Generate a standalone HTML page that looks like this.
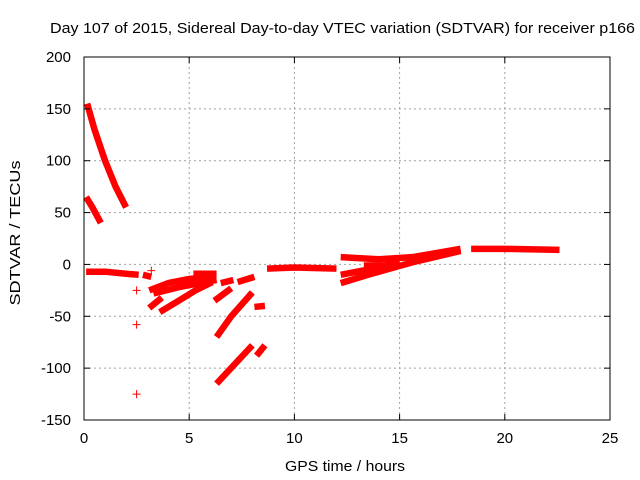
<!DOCTYPE html>
<html><head><meta charset="utf-8"><style>
body{margin:0;background:#fff;}
svg{display:block;font-family:"Liberation Sans",sans-serif;}
</style></head><body>
<svg id="chart" width="640" height="480">
<text x="50" y="33" font-size="15" textLength="585" lengthAdjust="spacingAndGlyphs">Day 107 of 2015, Sidereal Day-to-day VTEC variation (SDTVAR) for receiver p166</text>
<text x="0" y="0" text-anchor="middle" font-size="15" textLength="145" lengthAdjust="spacingAndGlyphs" transform="translate(20,233) rotate(-90)">SDTVAR / TECUs</text>
<text x="345" y="471" text-anchor="middle" font-size="15" textLength="120" lengthAdjust="spacingAndGlyphs">GPS time / hours</text>
<g id="grid"></g><g id="data"></g><g id="axes"></g>
</svg>
<script>
const xTicks=[0,5,10,15,20,25];
const yTicks=[-150,-100,-50,0,50,100,150,200];
const seg1=[[0.15,155],[0.5,130],[1.0,100],[1.5,75],[2.0,55]];
const seg2=[[0.1,65],[0.4,55],[0.8,40]];
const seg3=[[0.1,-7],[1.0,-7],[2.0,-9],[2.6,-10]];
const seg4=[[2.8,-10],[3.2,-12]];
const seg5=[[3.1,-25],[4.0,-18],[5.0,-14],[6.0,-12]];
const seg6=[[3.3,-28],[4.5,-22],[5.5,-18],[6.3,-15]];
const seg7=[[3.1,-42],[3.7,-32]];
const seg8=[[3.6,-46],[4.5,-35],[5.3,-25],[6.1,-17]];
const seg9=[[5.2,-9],[6.3,-9]];
const seg9b=[[5.2,-15],[6.3,-15]];
const seg10=[[6.2,-35],[7.0,-23]];
const seg11=[[6.3,-70],[7.0,-50],[8.0,-27]];
const seg12=[[6.3,-115],[8.0,-78]];
const seg13=[[8.2,-88],[8.6,-78]];
const seg14=[[8.1,-41],[8.6,-40]];
const seg15=[[6.5,-18],[7.1,-15]];
const seg16=[[7.3,-17],[8.1,-12]];
const seg17=[[8.7,-4],[10,-3],[12.0,-4]];
const seg18=[[12.2,7],[14,5],[15.6,7],[17.9,15]];
const seg19=[[12.2,-18],[13.5,-10],[15.6,2],[17.9,13]];
const seg20=[[12.2,-10],[14,-3],[15,3]];
const seg21=[[13.3,-1],[14.6,-1]];
const seg22=[[18.4,15],[20,15],[22.6,14]];
const segments=[seg1,seg2,seg3,seg4,seg5,seg6,seg7,seg8,seg9,seg9b,seg10,seg11,seg12,seg13,seg14,seg15,seg16,seg17,seg18,seg19,seg20,seg21,seg22];
const isolated=[[2.5,-25],[2.5,-58],[2.5,-125],[3.2,-6]];
const X0=84,X1=610,Y0=420,Y1=57;
function sx(v){return X0+(v-0)/(25-0)*(X1-X0);}
function sy(v){return Y0-(v+150)/(350)*(Y0-Y1);}
const NS="http://www.w3.org/2000/svg";
function mk(t,a,p){const e=document.createElementNS(NS,t);for(const k in a)e.setAttribute(k,a[k]);p.appendChild(e);return e;}
const grid=document.getElementById('grid'),axes=document.getElementById('axes'),data=document.getElementById('data');
xTicks.forEach(v=>{const x=sx(v);
 if(v>0&&v<25){const l=mk('line',{x1:x,x2:x,y1:Y1,y2:Y0,stroke:'#a0a0a0','stroke-dasharray':'2,3'},grid);
 }
 mk('line',{x1:x,x2:x,y1:Y0,y2:Y0-6,stroke:'#000'},axes);mk('line',{x1:x,x2:x,y1:Y1,y2:Y1+6,stroke:'#000'},axes);
 const t=mk('text',{x:x,y:443,'text-anchor':'middle','font-size':15},axes);t.textContent=v;
 });
yTicks.forEach(v=>{const y=sy(v);
 if(v>-150&&v<200){const l=mk('line',{x1:X0,x2:X1,y1:y,y2:y,stroke:'#a0a0a0','stroke-dasharray':'2,3'},grid);
 }
 mk('line',{x1:X0,x2:X0+6,y1:y,y2:y,stroke:'#000'},axes);mk('line',{x1:X1,x2:X1-6,y1:y,y2:y,stroke:'#000'},axes);
 const t=mk('text',{x:71,y:y+5,'text-anchor':'end','font-size':15},axes);t.textContent=v;
 });
const fr=mk('rect',{x:X0,y:Y1,width:X1-X0,height:Y0-Y1,fill:'none',stroke:'#000'},axes);

segments.forEach(s=>{const p=mk('polyline',{points:s.map(d=>sx(d[0])+','+sy(d[1])).join(' '),fill:'none',stroke:'#ff0000','stroke-width':6.5,'stroke-linejoin':'round'},data);
 });
isolated.forEach(d=>{const x=sx(d[0]),y=sy(d[1]);
 const p=mk('path',{d:`M${x-4},${y}H${x+4}M${x},${y-4}V${y+4}`,stroke:'#ff0000','stroke-width':1},data);
 });
</script>
</body></html>
